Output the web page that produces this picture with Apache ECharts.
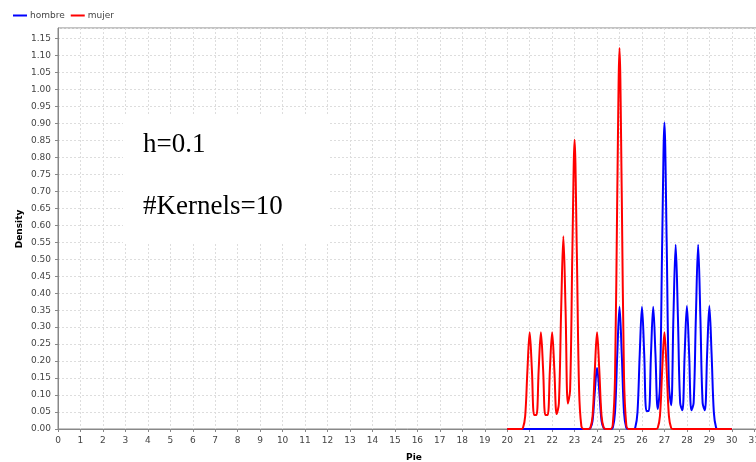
<!DOCTYPE html>
<html>
<head>
<meta charset="utf-8">
<script src="https://cdn.jsdelivr.net/npm/echarts@6/dist/echarts.min.js"></script>
<style>
  html, body {margin: 0; padding: 0; background: #fff;}
  #chart {width: 756px; height: 462px;}
</style>
</head>
<body>
<div id="chart"></div>
<script>
// sample positions along "Pie" (20 .. 30, step 0.1)
const pieX = [
  20.0, 20.1, 20.2, 20.3, 20.4, 20.5, 20.6, 20.7, 20.8, 20.9,
  21.0, 21.1, 21.2, 21.3, 21.4, 21.5, 21.6, 21.7, 21.8, 21.9,
  22.0, 22.1, 22.2, 22.3, 22.4, 22.5, 22.6, 22.7, 22.8, 22.9,
  23.0, 23.1, 23.2, 23.3, 23.4, 23.5, 23.6, 23.7, 23.8, 23.9,
  24.0, 24.1, 24.2, 24.3, 24.4, 24.5, 24.6, 24.7, 24.8, 24.9,
  25.0, 25.1, 25.2, 25.3, 25.4, 25.5, 25.6, 25.7, 25.8, 25.9,
  26.0, 26.1, 26.2, 26.3, 26.4, 26.5, 26.6, 26.7, 26.8, 26.9,
  27.0, 27.1, 27.2, 27.3, 27.4, 27.5, 27.6, 27.7, 27.8, 27.9,
  28.0, 28.1, 28.2, 28.3, 28.4, 28.5, 28.6, 28.7, 28.8, 28.9,
  29.0, 29.1, 29.2, 29.3, 29.4, 29.5, 29.6, 29.7, 29.8, 29.9,
  30.0,
];

// density
const hombre = [
  0, 0, 0, 0, 0, 0, 0, 0, 0, 0,
  0, 0, 0, 0, 0, 0, 0, 0, 0, 0,
  0, 0, 0, 0, 0, 0, 0, 0, 0, 0,
  0, 0, 0, 0, 0, 0, 0, 0.002, 0.024, 0.110,
  0.180, 0.110, 0.024, 0.002, 0, 0, 0, 0.004, 0.049, 0.220,
  0.360, 0.220, 0.049, 0.004, 0, 0, 0, 0.004, 0.049, 0.220,
  0.360, 0.220, 0.053, 0.053, 0.220, 0.360, 0.220, 0.059, 0.126, 0.549,
  0.903, 0.549, 0.128, 0.070, 0.330, 0.543, 0.330, 0.077, 0.055, 0.220,
  0.362, 0.220, 0.055, 0.077, 0.330, 0.543, 0.330, 0.077, 0.055, 0.220,
  0.362, 0.220, 0.049, 0.004, 0, 0, 0, 0, 0, 0,
  0,
];

const mujer = [
  0, 0, 0, 0, 0, 0, 0, 0.003, 0.038, 0.173,
  0.285, 0.173, 0.041, 0.041, 0.173, 0.285, 0.173, 0.041, 0.041, 0.173,
  0.285, 0.173, 0.044, 0.075, 0.346, 0.568, 0.346, 0.075, 0.115, 0.519,
  0.852, 0.519, 0.115, 0.009, 0, 0, 0, 0.003, 0.038, 0.173,
  0.285, 0.173, 0.038, 0.003, 0, 0, 0, 0.013, 0.154, 0.692,
  1.122, 0.692, 0.154, 0.013, 0, 0, 0, 0, 0, 0,
  0, 0, 0, 0, 0, 0, 0, 0.003, 0.038, 0.173,
  0.285, 0.173, 0.038, 0.003, 0, 0, 0, 0, 0, 0,
  0, 0, 0, 0, 0, 0, 0, 0, 0, 0,
  0, 0, 0, 0, 0, 0, 0, 0, 0, 0,
  0,
];

const seriesNames = ["hombre", "mujer"];
const seriesColors = ["#0000ff", "#ff0000"];
const noteLines = ["h=0.1", "#Kernels=10"];
const yAxisTitle = "Density";

const axisGrey = "#888888";
const labelStyle = {color: "#444444", fontSize: 9, fontFamily: "DejaVu Sans"};
const gridLine = {show: true, lineStyle: {color: "#dddddd", type: [2, 2], width: 1}};

const chart = echarts.init(document.getElementById("chart"), null, {renderer: "canvas"});

const option = {
  animation: false,
  backgroundColor: "#ffffff",
  legend: {
    left: 8,
    top: 6,
    itemWidth: 14,
    itemHeight: 2,
    itemGap: 6,
    icon: "rect",
    textStyle: {color: "#444444", fontSize: 9, fontFamily: "DejaVu Sans", padding: [0, 0, 0, -2]},
    data: seriesNames,
  },
  grid: {
    left: 58,
    top: 28,
    width: 712,
    height: 401,
    outerBoundsMode: "none",
    containLabel: false,
    show: true,
    borderColor: axisGrey,
    borderWidth: 1,
    backgroundColor: "#ffffff",
  },
  xAxis: {
    type: "value",
    min: 0,
    max: 31.7,
    interval: 1,
    offset: 3,
    name: "Pie",
    nameLocation: "middle",
    nameGap: 21,
    nameTextStyle: {color: "#000", fontSize: 9, fontWeight: "bold", fontFamily: "DejaVu Sans"},
    axisLine: {show: true, lineStyle: {color: axisGrey, width: 1}},
    axisTick: {show: true, length: 3, lineStyle: {color: axisGrey}},
    axisLabel: Object.assign({margin: 4, showMaxLabel: false}, labelStyle),
    splitLine: gridLine,
  },
  yAxis: {
    type: "value",
    min: 0,
    max: 1.181,
    interval: 0.05,
    offset: 3,
    axisLine: {show: true, lineStyle: {color: axisGrey, width: 1}},
    axisTick: {show: true, length: 3, lineStyle: {color: axisGrey}},
    axisLabel: Object.assign({margin: 4, showMaxLabel: false, formatter: (v) => v.toFixed(2)}, labelStyle),
    splitLine: gridLine,
  },
  graphic: [
    {
      type: "text",
      x: 20,
      y: 229,
      rotation: Math.PI / 2,
      style: {
        text: yAxisTitle,
        font: "bold 9px 'DejaVu Sans'",
        fill: "#000",
        align: "center",
        verticalAlign: "middle",
      },
    },
    {
      type: "rect",
      shape: {x: 123, y: 116, width: 205, height: 128},
      style: {fill: "#ffffff"},
      z: 10,
    },
    {
      type: "text",
      x: 143,
      y: 131,
      style: {text: noteLines[0], font: "27px 'Liberation Serif'", fill: "#000"},
      z: 11,
    },
    {
      type: "text",
      x: 143,
      y: 193,
      style: {text: noteLines[1], font: "27px 'Liberation Serif'", fill: "#000"},
      z: 11,
    },
  ],
  series: [
    {
      name: seriesNames[0],
      type: "line",
      data: pieX.map((x, i) => [x, hombre[i]]),
      showSymbol: false,
      smooth: 0.35,
      lineStyle: {color: seriesColors[0], width: 2},
      itemStyle: {color: seriesColors[0]},
      z: 3,
    },
    {
      name: seriesNames[1],
      type: "line",
      data: pieX.map((x, i) => [x, mujer[i]]),
      showSymbol: false,
      smooth: 0.35,
      lineStyle: {color: seriesColors[1], width: 2},
      itemStyle: {color: seriesColors[1]},
      z: 4,
    },
  ],
};

chart.setOption(option);
</script>
</body>
</html>
